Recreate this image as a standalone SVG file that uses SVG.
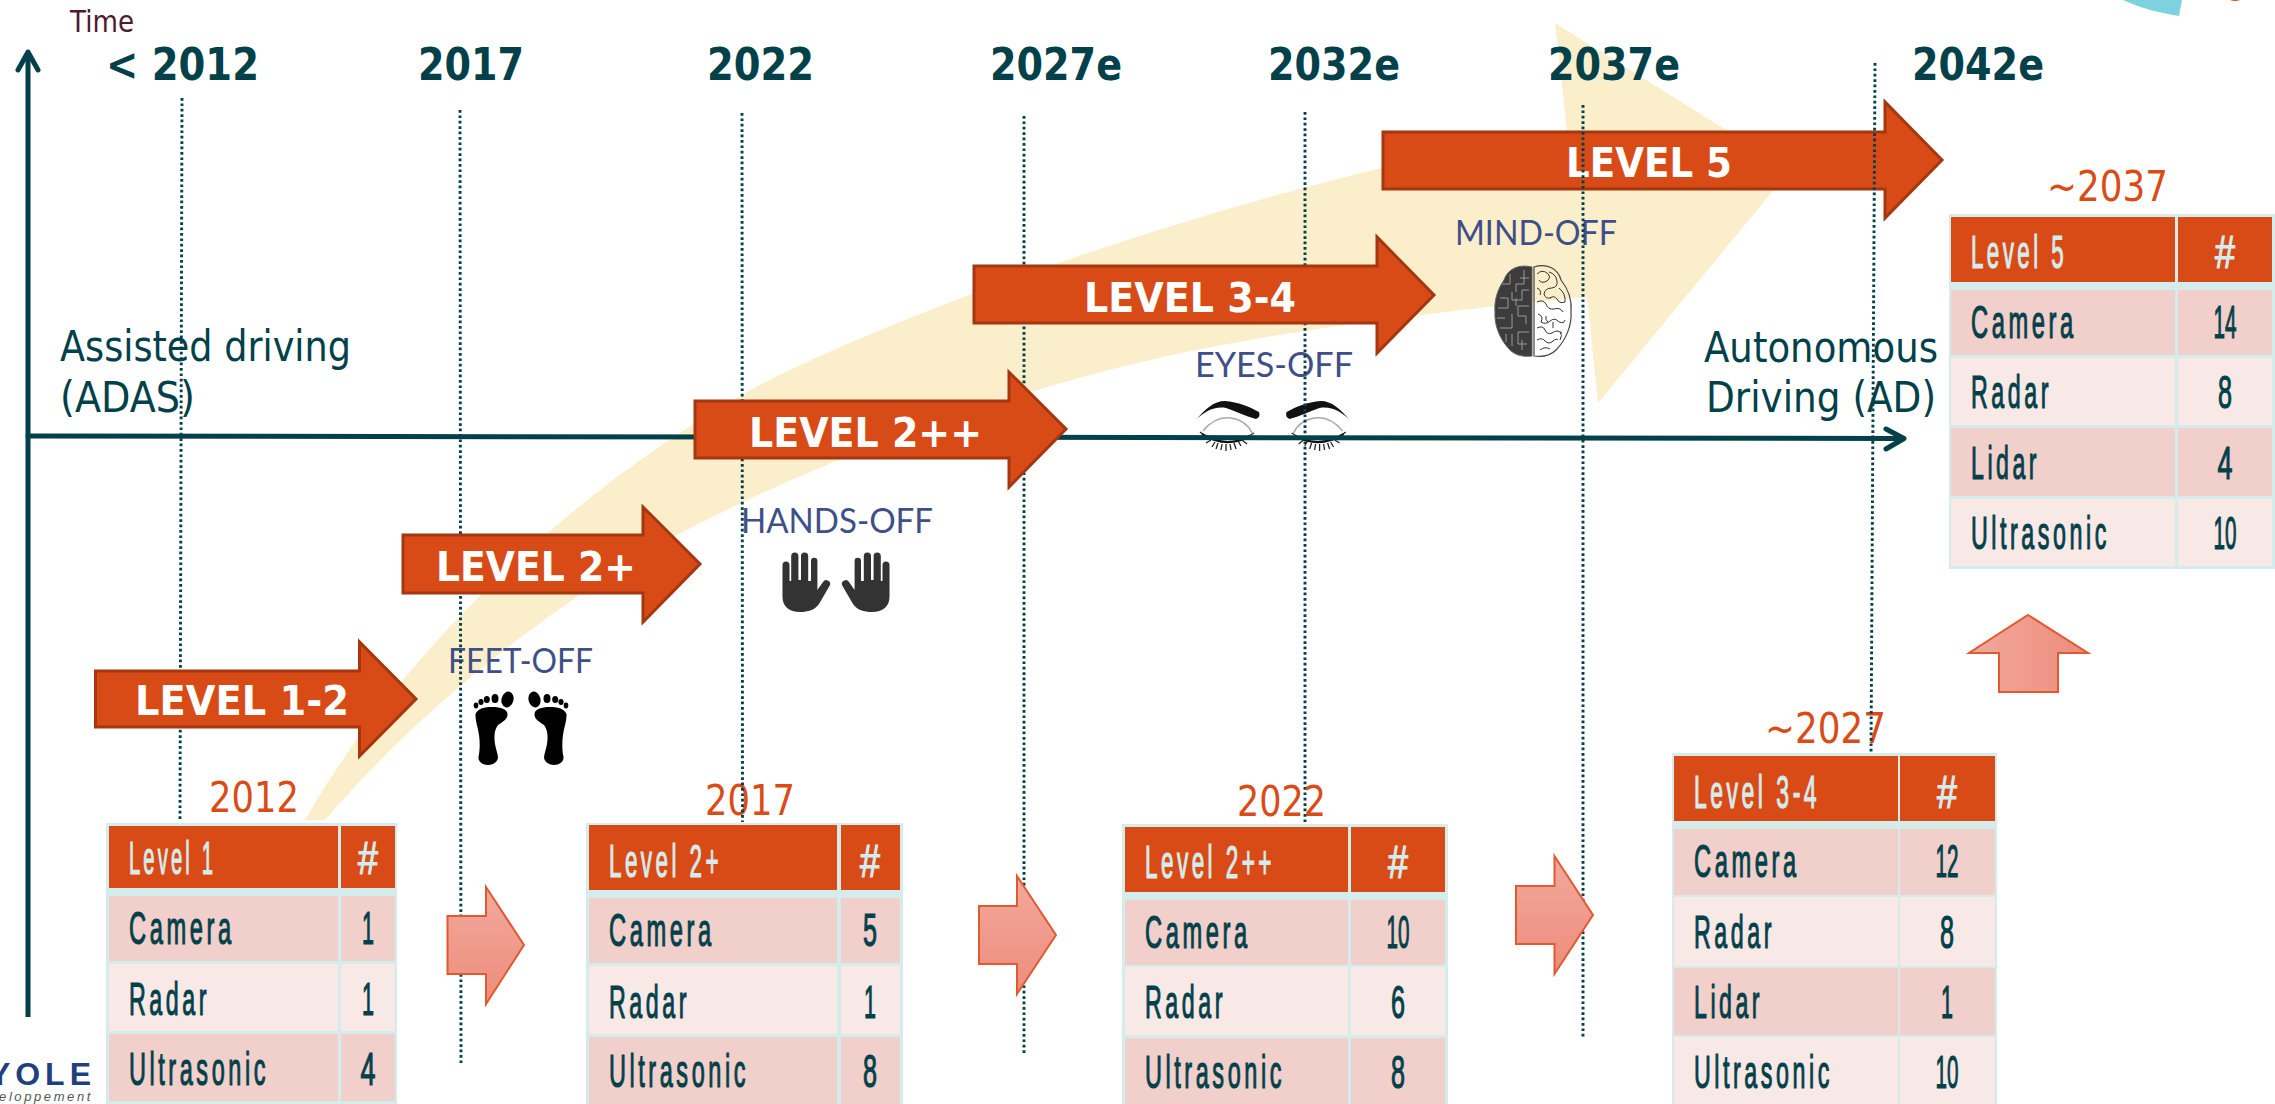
<svg xmlns="http://www.w3.org/2000/svg" width="2275" height="1104" viewBox="0 0 2275 1104">
<style>
text{font-family:"DejaVu Sans",sans-serif}
.yr{font-size:44px;font-weight:700;fill:#02414A}
.lv{font-size:41px;font-weight:700;fill:#fff}
.cap{font-size:42px;fill:#02414A}
.off{font-family:"Lato","Noto Sans",sans-serif;font-size:35px;fill:#3F4F87}
.ty{font-size:43px;fill:#D94C18}
.th,.tb{font-family:"Liberation Sans",Arial,sans-serif;font-size:46px;stroke-width:1.2px}
.th[transform],.tb[transform]{letter-spacing:7px}
.th{fill:#D5ECEC;stroke:#D5ECEC}
.tb{fill:#02414A;stroke:#02414A}
.lg{fill:#D84B17;stroke:#A5360F;stroke-width:3}
.sm{fill:url(#gv);stroke:#DF5A2E;stroke-width:2}
.bg{fill:#D5ECEC}.hd{fill:#D84B17}.r1{fill:#F1CFCB}.r2{fill:#F8E8E6}
.dot{fill:none;stroke:#02414A;stroke-width:2.9;stroke-dasharray:2.7 2.7}
.ax{fill:none;stroke:#02414A;stroke-width:5;stroke-linecap:round;stroke-linejoin:round}
</style>
<defs>
<linearGradient id="gv" x1="0" y1="0" x2="0" y2="1"><stop offset="0" stop-color="#F1A99D"/><stop offset="1" stop-color="#EE8C7C"/></linearGradient>
<linearGradient id="gh" x1="0" y1="0" x2="1" y2="0"><stop offset="0" stop-color="#F1A99D"/><stop offset="1" stop-color="#EE8C7C"/></linearGradient>
<g id="foot" fill="#000">
<ellipse cx="507.5" cy="699.5" rx="6" ry="8" transform="rotate(15 507.5 699.5)"/><ellipse cx="495" cy="698.5" rx="3.5" ry="4.5"/><ellipse cx="486.8" cy="699.5" rx="3" ry="3.6"/><ellipse cx="481" cy="702" rx="2.6" ry="3"/><ellipse cx="476" cy="705.5" rx="2.3" ry="3"/>
<path d="M475.5,714 C478,708 485,707 492,707 C501,707 508,709 507.5,715 C507,720 502,722 498,725 C494,730 494,738 495,744 C496,750 498,754 498,758 C497,763 492,765 488,765 C483,765 478,762 478.5,757 C480,750 480,742 479,735 C478,727 475,720 475.5,714 Z"/>
</g>
<path id="hand" fill="#333" d="M782.5,565 a3.5,3.5 0 0 1 7,0 V581 h1.7 V556 a3.6,3.6 0 0 1 7.2,0 V580 h2.6 V556 a3.6,3.6 0 0 1 7.2,0 V581 h2.8 V561 a3.2,3.2 0 0 1 6.4,0 V590 L823,582 a3.8,3.8 0 0 1 6.5,4 L819,604 C815,610 808,612 800,612 C789,612 782.5,606 782.5,597 Z"/>
<g id="eye">
<path d="M1196,420 C1205,409 1214,401 1225,401 C1238,402 1250,407 1259,412 Q1261,417 1256,419 C1245,416 1235,411 1226,408 C1214,406 1204,412 1196,420Z" fill="#111"/>
<path d="M1203,431 Q1215,416 1231,418 Q1246,420 1252,433" fill="none" stroke="#aaa" stroke-width="1.5"/>
<path d="M1202,434 Q1226,449 1250,436" fill="none" stroke="#111" stroke-width="2.2"/>
<path d="M1205,436 l-5,-4 M1208,438 l-6,0 M1211,440 l-5,3 M1215,442 l-3,5 M1218,443 l-2,6 M1222,444 l-1,6 M1226,444 l0,7 M1230,444 l1,6 M1234,443 l2,6 M1238,441 l3,5 M1242,440 l5,4 M1246,438 l6,1 M1249,436 l5,-3" fill="none" stroke="#222" stroke-width="1.3"/>
</g>
</defs>

<g id="corner-marks">
<path d="M2123,0 C2140,8 2160,13 2179,16 L2182,0 Z" fill="#7DD2DE"/>
<path d="M2230,0 Q2235,2 2240,0 Z" fill="#D84B17"/>
</g>

<path id="trend-band" fill="#FBEECA" d="M305,820 C385,680 540,510 742,395 C850,333 1130,228 1382,168 L1567,130 L1555,23 L1790,170 L1598,403 L1587,297 C1450,310 1280,330 1150,360 C990,397 820,460 677,535 C540,612 420,710 325,820 Z"/>

<g id="logo">
<text x="96" y="1085" text-anchor="end" font-size="32" font-weight="700" letter-spacing="5" fill="#1F3F7F" style="font-family:'Liberation Sans',sans-serif">YOLE</text>
<text x="93" y="1101" text-anchor="end" font-size="13" font-style="italic" letter-spacing="2.6" fill="#555" style="font-family:'Liberation Sans',sans-serif">eloppement</text>
</g>

<g id="time-label"><text x="70" y="32" font-size="30" fill="#4F1A2E" textLength="64" lengthAdjust="spacingAndGlyphs">Time</text></g>
<g id="years">
<text class="yr" x="106" y="80" textLength="153" lengthAdjust="spacingAndGlyphs">&lt; 2012</text>
<text class="yr" x="418" y="80" textLength="106" lengthAdjust="spacingAndGlyphs">2017</text>
<text class="yr" x="707" y="80" textLength="107" lengthAdjust="spacingAndGlyphs">2022</text>
<text class="yr" x="990" y="80" textLength="132" lengthAdjust="spacingAndGlyphs">2027e</text>
<text class="yr" x="1268" y="80" textLength="132" lengthAdjust="spacingAndGlyphs">2032e</text>
<text class="yr" x="1548" y="80" textLength="132" lengthAdjust="spacingAndGlyphs">2037e</text>
<text class="yr" x="1912" y="80" textLength="132" lengthAdjust="spacingAndGlyphs">2042e</text>
</g>
<g id="assisted-driving">
<text class="cap" x="60" y="361" textLength="291" lengthAdjust="spacingAndGlyphs">Assisted driving</text>
<text class="cap" x="60" y="412" textLength="135" lengthAdjust="spacingAndGlyphs">(ADAS)</text>
</g>
<g id="autonomous-driving">
<text class="cap" x="1704" y="362" textLength="234" lengthAdjust="spacingAndGlyphs">Autonomous</text>
<text class="cap" x="1706" y="412" textLength="230" lengthAdjust="spacingAndGlyphs">Driving (AD)</text>
</g>

<g id="feet-off">
<text class="off" x="448" y="673" textLength="145" lengthAdjust="spacingAndGlyphs">FEET-OFF</text>
<use href="#foot"/>
<use href="#foot" transform="translate(1042,0) scale(-1,1)"/>
</g>

<g id="hands-off">
<text class="off" x="741" y="533" textLength="192" lengthAdjust="spacingAndGlyphs">HANDS-OFF</text>
<use href="#hand"/>
<use href="#hand" transform="translate(1672,0) scale(-1,1)"/>
</g>

<g id="eyes-off">
<text class="off" x="1195" y="377" textLength="158" lengthAdjust="spacingAndGlyphs">EYES-OFF</text>
<use href="#eye"/>
<use href="#eye" transform="translate(2545.6,0) scale(-1,1)"/>
</g>

<g id="mind-off">
<text class="off" x="1455" y="245" textLength="162" lengthAdjust="spacingAndGlyphs">MIND-OFF</text>
<path d="M1532,267 C1520,264 1508,268 1504,280 C1497,290 1494,302 1495,312 C1494,325 1500,340 1510,350 C1516,356 1525,357 1532,356 Z" fill="#3c3c3c" stroke="#666" stroke-width="1"/>
<path d="M1524,270 V284 H1516 V292 M1529,278 H1520 M1510,274 V284 H1502 M1529,290 H1522 V300 H1512 V292 M1500,298 H1508 V308 H1498 M1529,306 H1518 V316 H1526 V324 M1512,314 V328 H1500 M1505,318 H1497 M1529,332 H1518 V344 H1527 M1512,334 V346 M1506,334 V342 M1522,350 V340 M1516,298 V306" fill="none" stroke="#9a9a9a" stroke-width="1"/>
<path d="M1534,267 C1546,263 1558,268 1561,280 C1569,290 1572,302 1571,312 C1572,325 1566,340 1556,350 C1550,356 1541,357 1534,356 Z" fill="none" stroke="#444" stroke-width="1.2"/>
<path d="M1537,274 q5,-5 10,-1 q5,4 0,8 q-6,3 -8,-1 M1549,272 q7,2 8,9 q1,6 -5,7 q-7,0 -8,6 q1,5 7,4 M1537,288 q5,2 3,7 M1559,288 q7,6 6,14 q-6,2 -8,-3 q-3,-4 -7,-1 M1537,302 q6,-3 9,2 q2,6 8,5 q6,-2 9,3 M1538,314 q6,2 3,8 q5,3 9,-1 q5,-4 9,1 q5,2 6,-2 M1537,328 q6,-3 8,2 q2,5 7,3 q5,-4 10,0 M1537,340 q5,-3 8,1 q4,4 8,0 q4,-3 5,-1 M1540,350 q5,-4 10,-1 M1553,322 v6 M1546,316 q-1,4 2,6 M1560,332 q3,3 0,8" fill="none" stroke="#333" stroke-width="1"/>
</g>

<g id="year-labels">
<text class="ty" x="209" y="812" textLength="90" lengthAdjust="spacingAndGlyphs">2012</text>
<text class="ty" x="705" y="815" textLength="90" lengthAdjust="spacingAndGlyphs">2017</text>
<text class="ty" x="1237" y="816" textLength="89" lengthAdjust="spacingAndGlyphs">2022</text>
<text class="ty" x="1765" y="743" textLength="121" lengthAdjust="spacingAndGlyphs">~2027</text>
<text class="ty" x="2047" y="201" textLength="121" lengthAdjust="spacingAndGlyphs">~2037</text>
</g>

<g id="level-5">
<polygon class="lg" points="1383,132 1885,132 1885,102 1942,160 1885,218 1885,189 1383,189"/>
<text class="lv" x="1566" y="177" textLength="166" lengthAdjust="spacingAndGlyphs">LEVEL 5</text>
</g>

<g id="connectors">
<path class="dot" d="M182,98 L180,820"/>
<path class="dot" d="M460,110 L461,1063"/>
<path class="dot" d="M742,113 L742.5,822"/>
<path class="dot" d="M1024,116 V1055"/>
<path class="dot" d="M1305,112 V823"/>
<path class="dot" d="M1583,105 V1038"/>
<path class="dot" d="M1875,63 L1871,753"/>
<path class="ax" style="stroke-linecap:butt" d="M28,1017 V52"/>
<path class="ax" d="M18,70 L28,52 L38,70"/>
<path class="ax" d="M28,436 L1903,438.5"/>
<path class="ax" d="M1886,429 L1904,438.5 L1886,449"/>
</g>

<g id="level-1-2">
<polygon class="lg" points="95.5,671 359.5,671 359.5,642 416,699 359.5,756 359.5,727 95.5,727"/>
<text class="lv" x="135" y="715" textLength="214" lengthAdjust="spacingAndGlyphs">LEVEL 1-2</text>
</g>
<g id="level-2-plus">
<polygon class="lg" points="403,535 643,535 643,507 700,564 643,622 643,593 403,593"/>
<text class="lv" x="436" y="581" textLength="200" lengthAdjust="spacingAndGlyphs">LEVEL 2+</text>
</g>
<g id="level-2-plus-plus">
<polygon class="lg" points="695,401 1009,401 1009,372 1066,429 1009,487 1009,458 695,458"/>
<text class="lv" x="749" y="447" textLength="233" lengthAdjust="spacingAndGlyphs">LEVEL 2++</text>
</g>
<g id="level-3-4">
<polygon class="lg" points="974,266 1377,266 1377,237 1434,295 1377,353 1377,323 974,323"/>
<text class="lv" x="1084" y="312" textLength="212" lengthAdjust="spacingAndGlyphs">LEVEL 3-4</text>
</g>

<g id="step-arrows">
<polygon class="sm" points="447.5,916 486,916 486,887 524,945 486,1004 486,974 447.5,974"/>
<polygon class="sm" points="979,906 1017,906 1017,876 1056,935 1017,994 1017,964 979,964"/>
<polygon class="sm" points="1516,886 1554.5,886 1554.5,856 1593,915 1554.5,974 1554.5,944 1516,944"/>
<polygon class="sm" style="fill:url(#gh)" points="2028,615 2088,653 2058,653 2058,692 1999,692 1999,653 1969,653"/>
</g>

<g id="table-level-1">
<rect class="bg" x="106" y="823" width="291" height="281"/>
<rect class="hd" x="109" y="826" width="229" height="62"/><rect class="hd" x="341" y="826" width="54" height="62"/>
<rect class="r1" x="109" y="896" width="229" height="65"/><rect class="r1" x="341" y="896" width="54" height="65"/>
<rect class="r2" x="109" y="964" width="229" height="67"/><rect class="r2" x="341" y="964" width="54" height="67"/>
<rect class="r1" x="109" y="1034" width="229" height="67"/><rect class="r1" x="341" y="1034" width="54" height="67"/>
<text class="th" transform="translate(129 874) scale(.441 1)">Level 1</text>
<text class="th" x="368" y="874" text-anchor="middle" textLength="20" lengthAdjust="spacingAndGlyphs">#</text>
<text class="tb" transform="translate(129 944) scale(.515 1)">Camera</text>
<text class="tb" x="368" y="944" text-anchor="middle" textLength="12" lengthAdjust="spacingAndGlyphs">1</text>
<text class="tb" transform="translate(129 1015) scale(.505 1)">Radar</text>
<text class="tb" x="368" y="1015" text-anchor="middle" textLength="12" lengthAdjust="spacingAndGlyphs">1</text>
<text class="tb" transform="translate(129 1085) scale(.51 1)">Ultrasonic</text>
<text class="tb" x="368" y="1085" text-anchor="middle" textLength="15" lengthAdjust="spacingAndGlyphs">4</text>
</g>

<g id="table-level-2-plus">
<rect class="bg" x="586" y="823" width="317" height="281"/>
<rect class="hd" x="589" y="825" width="248" height="65"/><rect class="hd" x="841" y="825" width="59" height="65"/>
<rect class="r1" x="589" y="898" width="248" height="65"/><rect class="r1" x="841" y="898" width="59" height="65"/>
<rect class="r2" x="589" y="966" width="248" height="68"/><rect class="r2" x="841" y="966" width="59" height="68"/>
<rect class="r1" x="589" y="1037" width="248" height="67"/><rect class="r1" x="841" y="1037" width="59" height="67"/>
<text class="th" transform="translate(609 877) scale(.489 1)">Level 2+</text>
<text class="th" x="870" y="877" text-anchor="middle" textLength="20" lengthAdjust="spacingAndGlyphs">#</text>
<text class="tb" transform="translate(609 946) scale(.515 1)">Camera</text>
<text class="tb" x="870" y="946" text-anchor="middle" textLength="14" lengthAdjust="spacingAndGlyphs">5</text>
<text class="tb" transform="translate(609 1018) scale(.505 1)">Radar</text>
<text class="tb" x="870" y="1018" text-anchor="middle" textLength="12" lengthAdjust="spacingAndGlyphs">1</text>
<text class="tb" transform="translate(609 1087) scale(.51 1)">Ultrasonic</text>
<text class="tb" x="870" y="1087" text-anchor="middle" textLength="14" lengthAdjust="spacingAndGlyphs">8</text>
</g>

<g id="table-level-2-plus-plus">
<rect class="bg" x="1122" y="824" width="326" height="280"/>
<rect class="hd" x="1125" y="827" width="223" height="65"/><rect class="hd" x="1351" y="827" width="94" height="65"/>
<rect class="r1" x="1125" y="900" width="223" height="65"/><rect class="r1" x="1351" y="900" width="94" height="65"/>
<rect class="r2" x="1125" y="967" width="223" height="68"/><rect class="r2" x="1351" y="967" width="94" height="68"/>
<rect class="r1" x="1125" y="1038" width="223" height="66"/><rect class="r1" x="1351" y="1038" width="94" height="66"/>
<text class="th" transform="translate(1145 878) scale(.49 1)">Level 2++</text>
<text class="th" x="1398" y="878" text-anchor="middle" textLength="20" lengthAdjust="spacingAndGlyphs">#</text>
<text class="tb" transform="translate(1145 948) scale(.515 1)">Camera</text>
<text class="tb" x="1398" y="948" text-anchor="middle" textLength="23" lengthAdjust="spacingAndGlyphs">10</text>
<text class="tb" transform="translate(1145 1018) scale(.505 1)">Radar</text>
<text class="tb" x="1398" y="1018" text-anchor="middle" textLength="14" lengthAdjust="spacingAndGlyphs">6</text>
<text class="tb" transform="translate(1145 1088) scale(.51 1)">Ultrasonic</text>
<text class="tb" x="1398" y="1088" text-anchor="middle" textLength="14" lengthAdjust="spacingAndGlyphs">8</text>
</g>

<g id="table-level-3-4">
<rect class="bg" x="1672" y="753" width="325" height="351"/>
<rect class="hd" x="1674" y="756" width="224" height="65"/><rect class="hd" x="1900" y="756" width="95" height="65"/>
<rect class="r1" x="1674" y="829" width="224" height="66"/><rect class="r1" x="1900" y="829" width="95" height="66"/>
<rect class="r2" x="1674" y="897" width="224" height="69"/><rect class="r2" x="1900" y="897" width="95" height="69"/>
<rect class="r1" x="1674" y="968" width="224" height="67"/><rect class="r1" x="1900" y="968" width="95" height="67"/>
<rect class="r2" x="1674" y="1037" width="224" height="67"/><rect class="r2" x="1900" y="1037" width="95" height="67"/>
<text class="th" transform="translate(1694 808) scale(.5 1)">Level 3-4</text>
<text class="th" x="1947" y="808" text-anchor="middle" textLength="20" lengthAdjust="spacingAndGlyphs">#</text>
<text class="tb" transform="translate(1694 877) scale(.515 1)">Camera</text>
<text class="tb" x="1947" y="877" text-anchor="middle" textLength="23" lengthAdjust="spacingAndGlyphs">12</text>
<text class="tb" transform="translate(1694 948) scale(.505 1)">Radar</text>
<text class="tb" x="1947" y="948" text-anchor="middle" textLength="14" lengthAdjust="spacingAndGlyphs">8</text>
<text class="tb" transform="translate(1694 1018) scale(.503 1)">Lidar</text>
<text class="tb" x="1947" y="1018" text-anchor="middle" textLength="12" lengthAdjust="spacingAndGlyphs">1</text>
<text class="tb" transform="translate(1694 1088) scale(.506 1)">Ultrasonic</text>
<text class="tb" x="1947" y="1088" text-anchor="middle" textLength="23" lengthAdjust="spacingAndGlyphs">10</text>
</g>

<g id="table-level-5">
<rect class="bg" x="1949" y="214" width="326" height="355"/>
<rect class="hd" x="1951" y="217" width="224" height="65"/><rect class="hd" x="2178" y="217" width="94" height="65"/>
<rect class="r1" x="1951" y="290" width="224" height="65"/><rect class="r1" x="2178" y="290" width="94" height="65"/>
<rect class="r2" x="1951" y="358" width="224" height="67"/><rect class="r2" x="2178" y="358" width="94" height="67"/>
<rect class="r1" x="1951" y="428" width="224" height="68"/><rect class="r1" x="2178" y="428" width="94" height="68"/>
<rect class="r2" x="1951" y="499" width="224" height="67"/><rect class="r2" x="2178" y="499" width="94" height="67"/>
<text class="th" transform="translate(1971 268) scale(.487 1)">Level 5</text>
<text class="th" x="2225" y="268" text-anchor="middle" textLength="20" lengthAdjust="spacingAndGlyphs">#</text>
<text class="tb" transform="translate(1971 338) scale(.515 1)">Camera</text>
<text class="tb" x="2225" y="338" text-anchor="middle" textLength="23" lengthAdjust="spacingAndGlyphs">14</text>
<text class="tb" transform="translate(1971 408) scale(.505 1)">Radar</text>
<text class="tb" x="2225" y="408" text-anchor="middle" textLength="14" lengthAdjust="spacingAndGlyphs">8</text>
<text class="tb" transform="translate(1971 479) scale(.503 1)">Lidar</text>
<text class="tb" x="2225" y="479" text-anchor="middle" textLength="15" lengthAdjust="spacingAndGlyphs">4</text>
<text class="tb" transform="translate(1971 549) scale(.506 1)">Ultrasonic</text>
<text class="tb" x="2225" y="549" text-anchor="middle" textLength="23" lengthAdjust="spacingAndGlyphs">10</text>
</g>
</svg>
